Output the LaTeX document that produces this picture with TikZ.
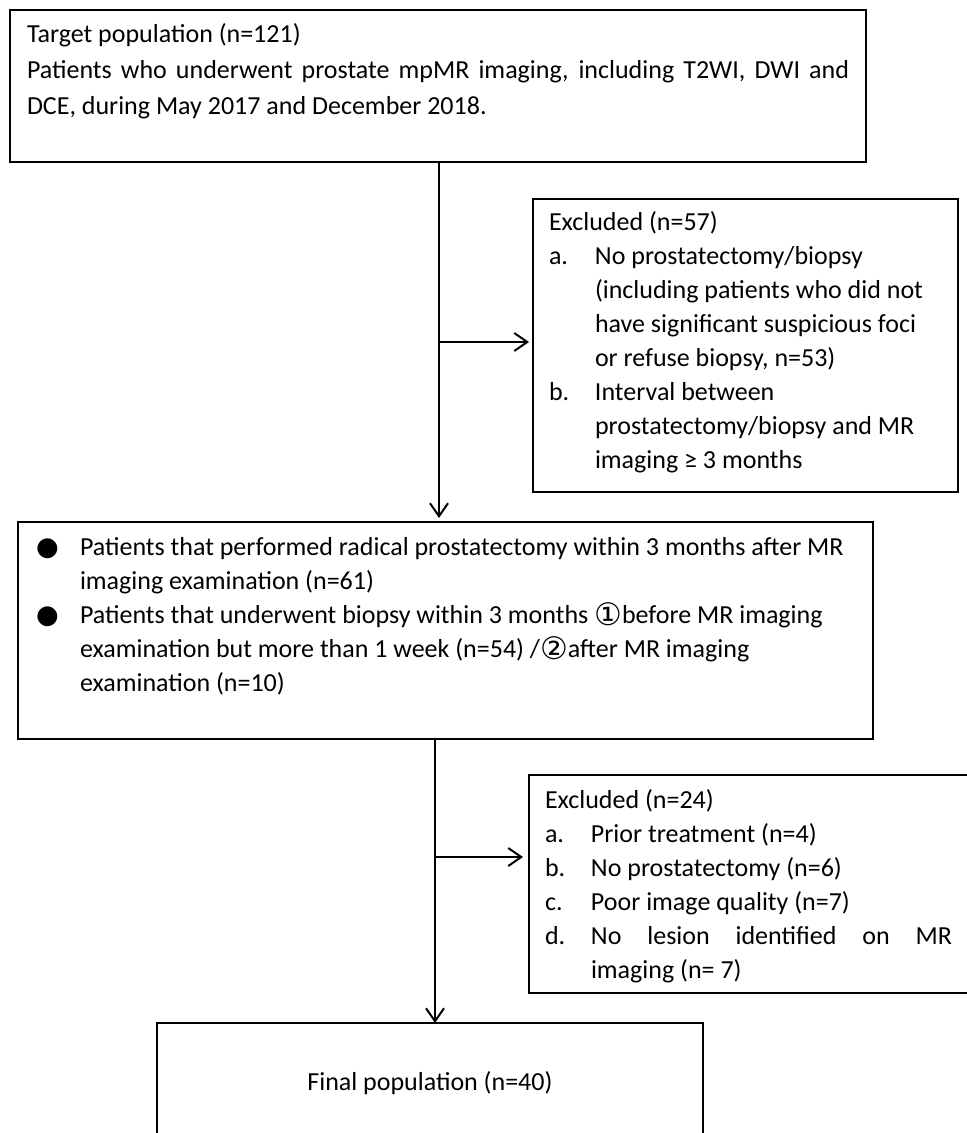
\documentclass[tikz,border=0pt]{standalone}
\usepackage{fontspec}
\setmainfont{Carlito}
\newfontfamily\symfont{DejaVu Sans}
\usetikzlibrary{arrows.meta,positioning,calc}
\newcommand\exitem[2]{\par\hangindent=23pt\hangafter=1\noindent\makebox[23pt][l]{#1}#2\par}
\newcommand\bulitem[1]{\par\hangindent=22pt\hangafter=1\noindent\makebox[22pt][l]{\symfont ●}\strut#1\par}
\newcommand\circnum[1]{\raisebox{-1.3pt}{\symfont\fontsize{15.5}{17}\selectfont #1}}
\tikzset{
  popbox/.style={draw=black,line width=1pt,outer sep=0pt,anchor=north west,align=left,font=\fontsize{13}{17}\selectfont},
  flowline/.style={-{Straight Barb[length=6.5pt,width=9pt]},line width=1pt,shorten >=2pt}
}
\begin{document}
\begin{tikzpicture}[x=0.5pt,y=-0.5pt]
  \useasboundingbox (0,0) rectangle (966,1133);
  \node[popbox,inner xsep=8.5pt,inner ysep=3.5pt] (target) at (10,10)
    {\parbox[c][69pt][t]{411pt}{\fontsize{13}{18}\selectfont\strut Target population (n=121)\\
     Patients who underwent prostate mpMR imaging, including T2WI, DWI and\linebreak
     DCE, during May 2017 and December 2018.}};
  \node[popbox,inner xsep=8pt,inner ysep=4.1pt] (excl1) at (533,199)
    {\parbox[c][138.3pt][t]{196.5pt}{\raggedright\strut Excluded (n=57)
     \exitem{a.}{No prostatectomy/biopsy\newline (including patients who did not\newline have significant suspicious foci\newline or refuse biopsy, n=53)}
     \exitem{b.}{Interval between\newline prostatectomy/biopsy and MR\newline imaging ≥ 3 months}}};
  \node[popbox,inner xsep=9pt,inner ysep=4.6pt] (elig) at (18,522)
    {\parbox[c][99.3pt][t]{409.5pt}{\raggedright
     \bulitem{Patients that performed radical prostatectomy within 3 months after MR\newline imaging examination (n=61)}
     \bulitem{Patients that underwent biopsy within 3 months \circnum{①}before MR imaging\newline examination but more than 1 week (n=54) /\circnum{②}after MR imaging\newline examination (n=10)}}};
  \node[popbox,inner xsep=8pt,inner ysep=4.6pt] (excl2) at (529,775)
    {\parbox[c][99.8pt][t]{203.5pt}{\strut Excluded (n=24)
     \exitem{a.}{Prior treatment (n=4)}
     \exitem{b.}{No prostatectomy (n=6)}
     \exitem{c.}{Poor image quality (n=7)}
     \exitem{d.}{No lesion identified on MR\linebreak imaging (n= 7)}}};
  \node[popbox,anchor=center,minimum width=273pt,minimum height=60pt,align=center] (final) at (430,1083)
    {Final population (n=40)};
  \coordinate (split1) at (439,342);
  \coordinate (split2) at (435,857);
  \draw[line width=1pt] (target.south -| split1) -- (split1);
  \draw[flowline] (split1) -- (split1 |- elig.north);
  \draw[flowline,shorten >=2pt] (split1) -- (excl1.west |- split1);
  \draw[line width=1pt] (elig.south -| split2) -- (split2);
  \draw[flowline,shorten >=0pt] (split2) -- (split2 |- final.north);
  \draw[flowline,shorten >=3pt] (split2) -- (excl2.west |- split2);
\end{tikzpicture}
\end{document}
